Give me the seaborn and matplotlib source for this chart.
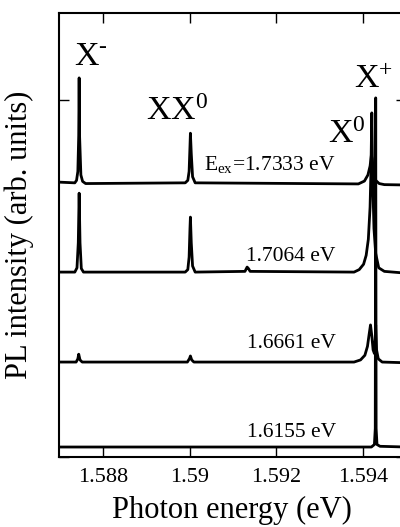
import matplotlib
matplotlib.use("Agg")
import matplotlib.pyplot as plt
import seaborn as sns

# spectra (energy in eV, intensity in offset arb. units)
e_1733 = [1.58698, 1.58735, 1.58739, 1.58742, 1.58744, 1.58745, 1.58746, 1.58749, 1.58753, 1.58760,
          1.58990, 1.58996, 1.58999, 1.59001, 1.59002, 1.59004, 1.59007, 1.59013,
          1.59390, 1.59404, 1.59412, 1.59417, 1.59420, 1.59422, 1.59425, 1.59430, 1.59438, 1.59450, 1.59500]
i_1733 = [0.770, 0.768, 0.775, 0.800, 0.900, 1.062, 0.900, 0.790, 0.772, 0.766,
          0.768, 0.775, 0.800, 0.870, 0.907, 0.850, 0.785, 0.768,
          0.765, 0.773, 0.790, 0.815, 0.845, 0.835, 0.800, 0.775, 0.766, 0.763, 0.762]

e_1706 = [1.58698, 1.58735, 1.58740, 1.58743, 1.58745, 1.58747, 1.58750, 1.58755,
          1.58990, 1.58996, 1.58999, 1.59001, 1.59002, 1.59004, 1.59007, 1.59013,
          1.59128, 1.59133, 1.59136, 1.59140,
          1.59380, 1.59392, 1.59402, 1.59408, 1.59413, 1.59417, 1.59419, 1.59421, 1.59423, 1.59426,
          1.59430, 1.59437, 1.59450, 1.59500]
i_1706 = [0.518, 0.518, 0.530, 0.600, 0.739, 0.600, 0.528, 0.518,
          0.518, 0.525, 0.560, 0.640, 0.672, 0.600, 0.535, 0.518,
          0.520, 0.532, 0.528, 0.520,
          0.518, 0.525, 0.540, 0.565, 0.610, 0.700, 0.800, 0.964, 0.780, 0.640,
          0.570, 0.530, 0.520, 0.515]

e_1666 = [1.58698, 1.58738, 1.58742, 1.58744, 1.58747, 1.58752,
          1.58995, 1.59000, 1.59002, 1.59005, 1.59010,
          1.59380, 1.59395, 1.59405, 1.59411, 1.59415, 1.59418, 1.59421, 1.59424, 1.59427,
          1.59429, 1.59430, 1.59432, 1.59436, 1.59445, 1.59500]
i_1666 = [0.266, 0.266, 0.275, 0.288, 0.272, 0.266,
          0.266, 0.276, 0.283, 0.272, 0.266,
          0.266, 0.272, 0.285, 0.310, 0.345, 0.370, 0.340, 0.300, 0.290,
          0.330, 0.370, 0.300, 0.275, 0.266, 0.264]

e_1616 = [1.58698, 1.59200, 1.59420, 1.59427, 1.59429, 1.59430, 1.59431, 1.59433, 1.59440, 1.59500]
i_1616 = [0.028, 0.028, 0.028, 0.035, 0.080, 1.006, 0.080, 0.035, 0.030, 0.028]

spectra = [(e_1733, i_1733), (e_1706, i_1706), (e_1666, i_1666), (e_1616, i_1616)]

exc_labels = ["E$_{\\mathrm{ex}}$=1.7333 eV", "1.7064 eV", "1.6661 eV", "1.6155 eV"]
exc_label_y = [0.804, 0.549, 0.305, 0.056]
exc_label_x = [1.59338, 1.59338, 1.59338, 1.59338]

peak_names = ["X$^{\\text{-}}$", "XX$^{0}$", "X$^{0}$", "X$^{+}$"]
peak_x = [1.58772, 1.58972, 1.59364, 1.59425]
peak_y = [1.098, 0.944, 0.880, 1.034]

x_ticks = [1.588, 1.590, 1.592, 1.594]
x_tick_labels = ["1.588", "1.59", "1.592", "1.594"]

sns.set_theme(style="ticks")
plt.rcParams["font.family"] = ["Liberation Serif", "DejaVu Serif"]
plt.rcParams["mathtext.fontset"] = "custom"
plt.rcParams["mathtext.rm"] = "Liberation Serif"
plt.rcParams["mathtext.it"] = "Liberation Serif:italic"

fig = plt.figure(figsize=(4.0, 5.27), dpi=100)
ax = fig.add_axes([0.147, 0.1328, 0.868, 0.8425])

for e, i in spectra:
    sns.lineplot(x=e, y=i, ax=ax, color="black", lw=2.0, sort=False)

for txt, x, y in zip(exc_labels, exc_label_x, exc_label_y):
    ax.text(x, y, txt, ha="right", va="baseline", fontsize=15.5, color="black")

for txt, x, y in zip(peak_names, peak_x, peak_y):
    ax.text(x, y, txt, ha="center", va="baseline", fontsize=24.5, color="black")

ax.set_xlim(1.58698, 1.595)
ax.set_ylim(0, 1.2437)
ax.set_xticks(x_ticks)
ax.set_xticklabels(x_tick_labels)
ax.set_yticks([0, 1])
ax.set_yticklabels([])
ax.tick_params(direction="in", length=7, width=1, top=True, right=True,
               labelsize=16, colors="black", pad=8)
for s in ax.spines.values():
    s.set_linewidth(1.5)
    s.set_color("black")

ax.set_xlabel("Photon energy (eV)", fontsize=22, color="black", labelpad=6)
ax.set_ylabel("PL intensity (arb. units)", fontsize=22, color="black", labelpad=10)

fig.savefig("out.png", dpi=100)
